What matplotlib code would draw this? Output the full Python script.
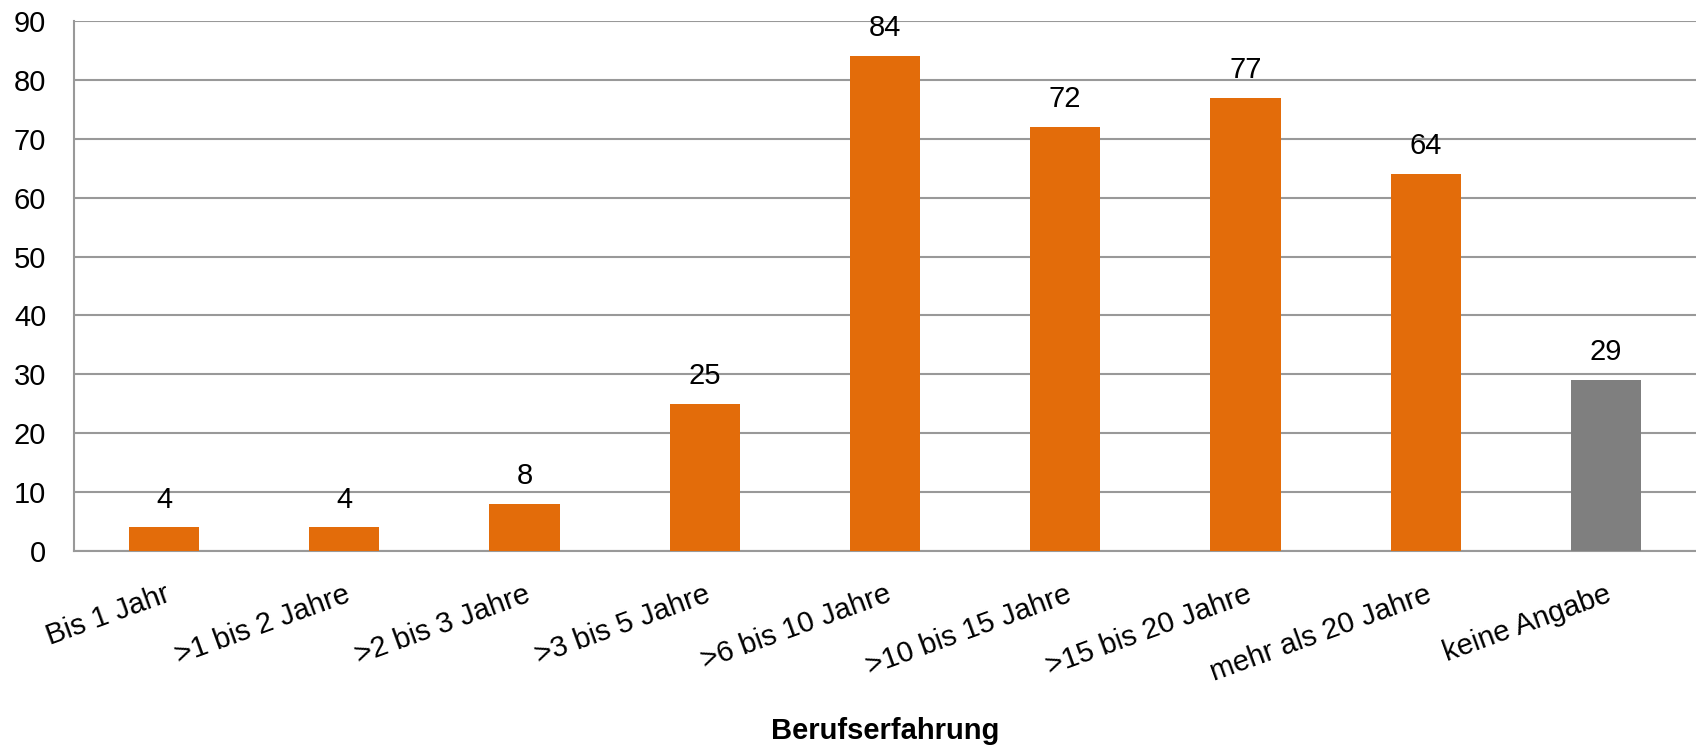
import matplotlib
matplotlib.use("Agg")
import matplotlib.pyplot as plt
from matplotlib import font_manager

categories = ["Bis 1 Jahr", ">1 bis 2 Jahre", ">2 bis 3 Jahre", ">3 bis 5 Jahre",
              ">6 bis 10 Jahre", ">10 bis 15 Jahre", ">15 bis 20 Jahre",
              "mehr als 20 Jahre", "keine Angabe"]
values = [4, 4, 8, 25, 84, 72, 77, 64, 29]
colors = ["#e36c0a"] * 8 + ["#7f7f7f"]
yticks = [0, 10, 20, 30, 40, 50, 60, 70, 80, 90]

plt.rcParams["font.family"] = ["Liberation Sans", "DejaVu Sans"]
names = {f.name for f in font_manager.fontManager.ttflist}
label_font = "Liberation Sans Narrow" if "Liberation Sans Narrow" in names else "Liberation Sans"

fig = plt.figure(figsize=(16.96, 7.51), dpi=100)
ax = fig.add_axes([74 / 1696, 1 - 551 / 751, 1 - 74 / 1696, (551 - 21) / 751])

x = range(len(categories))
ax.bar(x, values, width=0.39, color=colors, zorder=3)
for i, v in zip(x, values):
    ax.annotate(str(v), (i, v), xytext=(0, 10), textcoords="offset points",
                ha="center", va="bottom", fontsize=21, family=label_font)

ax.set_xlim(-0.5, len(categories) - 0.5)
ax.set_ylim(0, 90)
ax.set_yticks(yticks)
ax.grid(axis="y", color="#999999", linewidth=1.5, zorder=0)
ax.set_xticks(list(x))
ax.set_xticklabels(categories, rotation=20, ha="right", rotation_mode="anchor", fontsize=21)
ax.tick_params(axis="both", length=0, labelsize=21)
ax.tick_params(axis="y", pad=20)
ax.tick_params(axis="x", pad=21)
for s in ["top", "right"]:
    ax.spines[s].set_visible(False)
for s in ["left", "bottom"]:
    ax.spines[s].set_color("#999999")
    ax.spines[s].set_linewidth(1.5)
ax.set_xlabel("Berufserfahrung", fontsize=21, fontweight="bold", labelpad=22)

fig.savefig("out.png", dpi=100)
